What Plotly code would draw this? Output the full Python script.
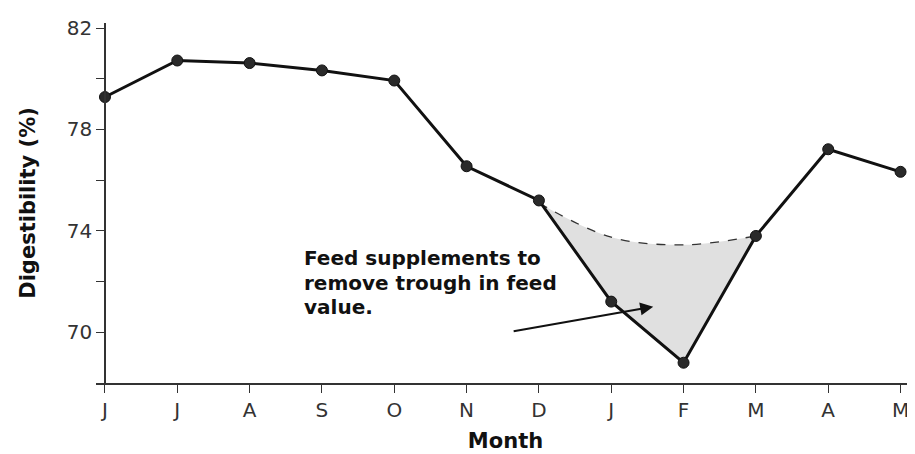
import plotly.graph_objects as go

months = ['J', 'J', 'A', 'S', 'O', 'N', 'D', 'J', 'F', 'M', 'A', 'M']
digestibility = [79.28, 80.72, 80.62, 80.33, 79.93, 76.55, 75.2, 71.21, 68.8, 73.8, 77.22, 76.33]
trough_start, trough_end = 6, 9
supplemented = [75.1, 73.75, 73.45, 73.8]
y_tick_vals = [70, 72, 74, 76, 78, 80, 82]
y_tick_text = ['70', '', '74', '', '78', '', '82']
note_lines = ['Feed supplements to', 'remove trough in feed', 'value.']

x_idx = list(range(len(months)))
trough_x = x_idx[trough_start:trough_end + 1]
trough_y = digestibility[trough_start:trough_end + 1]

FONT = 'DejaVu Sans'
fig = go.Figure()
fig.add_trace(go.Scatter(x=trough_x, y=trough_y, mode='lines',
                         line=dict(width=0, color='rgba(0,0,0,0)'),
                         showlegend=False, hoverinfo='skip'))
fig.add_trace(go.Scatter(x=trough_x, y=supplemented, mode='lines',
                         line=dict(color='#333333', width=1.3, dash='dash', shape='spline'),
                         fill='tonexty', fillcolor='#e0e0e0', showlegend=False))
fig.add_trace(go.Scatter(x=x_idx, y=digestibility, mode='lines+markers',
                         line=dict(color='#111111', width=3),
                         marker=dict(size=11, color='#2a2a2a', line=dict(color='#111111', width=1)),
                         showlegend=False))

x_lo, x_hi = -0.124, 11.2
for i, line in enumerate(note_lines):
    fig.add_annotation(x=2.725, y=[72.93, 71.95, 71.0][i], xref='x', yref='y',
                       text='<b>' + line + '</b>', showarrow=False, xanchor='left', yanchor='middle',
                       font=dict(family=FONT, size=20, color='#111111'))

fig.add_annotation(x=7.58, y=71.01, ax=5.63, ay=70.03, xref='x', yref='y', axref='x', ayref='y',
                   text='', showarrow=True, arrowhead=2, arrowsize=1.3, arrowwidth=2, arrowcolor='#111111')

fig.update_layout(
    width=907, height=446,
    margin=dict(l=88, r=0, t=15, b=71),
    paper_bgcolor='white', plot_bgcolor='white',
    font=dict(family=FONT, size=20, color='#333333'),
    xaxis=dict(range=[x_lo, x_hi], tickvals=x_idx, ticktext=months, ticks='outside', ticklen=8,
               tickwidth=1.2, tickcolor='#333333', showline=True, linecolor='#333333', linewidth=1.5,
               showgrid=False, zeroline=False, automargin=False,
               tickfont=dict(family=FONT, size=20, color='#333333'),
               title=dict(text='<b>Month</b>', standoff=13, font=dict(family=FONT, size=21, color='#111111'))),
    yaxis=dict(range=[68, 82.2], tickvals=y_tick_vals, ticktext=y_tick_text, ticks='outside', ticklen=8,
               tickwidth=1.2, tickcolor='#333333', showline=True, linecolor='#333333', linewidth=1.5,
               showgrid=False, zeroline=False, anchor='free', position=(0 - x_lo) / (x_hi - x_lo),
               automargin=False,
               tickfont=dict(family=FONT, size=20, color='#333333'),
               title=dict(text='<b>Digestibility (%)</b>', standoff=24, font=dict(family=FONT, size=21, color='#111111'))),
)

fig.write_html('out.html')
